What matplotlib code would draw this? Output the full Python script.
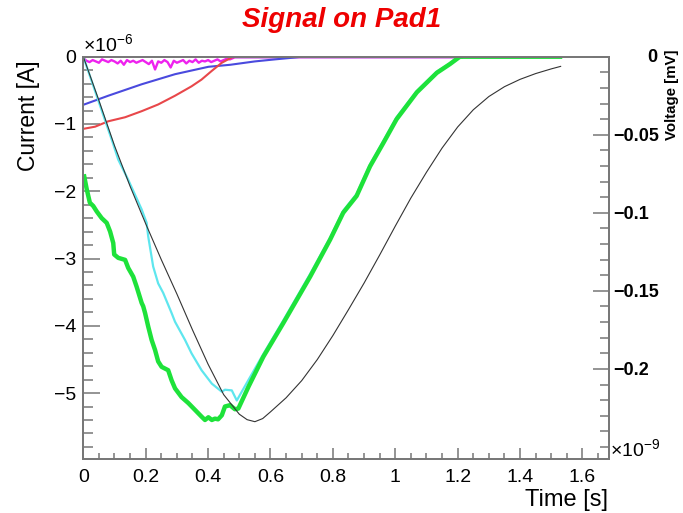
#!/usr/bin/env python3
"""Signal on Pad1: induced currents (left axis) and the shaped voltage (right axis)."""

import matplotlib
matplotlib.use("Agg")
from matplotlib import pyplot as plt
from matplotlib.ticker import MultipleLocator, FixedLocator, FixedFormatter, FuncFormatter

plt.rcParams["font.family"] = ["Liberation Sans", "DejaVu Sans"]
plt.rcParams["mathtext.fontset"] = "custom"
plt.rcParams["mathtext.rm"] = "Liberation Sans"

# time in units of 1e-9 s, current in units of 1e-6 A, voltage in mV
green_t = [0.003, 0.011, 0.021, 0.032, 0.043, 0.059, 0.075, 0.086, 0.096, 0.099,
           0.112, 0.134, 0.144, 0.160, 0.171, 0.187, 0.192, 0.198, 0.208, 0.219,
           0.230, 0.240, 0.251, 0.272, 0.283, 0.294, 0.315, 0.337, 0.358, 0.379,
           0.390, 0.401, 0.412, 0.422, 0.432, 0.444, 0.454, 0.470, 0.486, 0.497,
           0.530, 0.577, 0.641, 0.727, 0.791, 0.833, 0.876, 0.919, 0.962, 1.004,
           1.069, 1.133, 1.175, 1.207, 1.528]
green_i = [-1.78, -1.97, -2.17, -2.22, -2.30, -2.40, -2.47, -2.60, -2.77, -2.94,
           -2.99, -3.02, -3.14, -3.27, -3.42, -3.66, -3.71, -3.81, -4.01, -4.21,
           -4.36, -4.53, -4.61, -4.66, -4.81, -4.93, -5.06, -5.15, -5.25, -5.35,
           -5.40, -5.36, -5.40, -5.38, -5.39, -5.33, -5.20, -5.18, -5.24, -5.23,
           -4.90, -4.46, -3.96, -3.27, -2.72, -2.32, -2.07, -1.63, -1.28, -0.93,
           -0.53, -0.24, -0.11, 0.0, 0.0]

cyan_t = [0.0, 0.096, 0.112, 0.144, 0.187, 0.203, 0.208, 0.224, 0.240, 0.256,
          0.283, 0.294, 0.326, 0.347, 0.379, 0.412, 0.444, 0.454, 0.476, 0.492,
          0.530, 0.577, 0.641, 0.727, 0.791, 0.833, 0.876, 0.919, 0.962, 1.004,
          1.069, 1.133, 1.175, 1.205, 1.520]
cyan_i = [0.0, -1.30, -1.53, -1.83, -2.27, -2.47, -2.67, -3.12, -3.37, -3.51,
          -3.81, -3.94, -4.21, -4.41, -4.66, -4.86, -4.98, -4.95, -4.96, -5.11,
          -4.80, -4.42, -3.92, -3.23, -2.69, -2.29, -2.04, -1.60, -1.25, -0.90,
          -0.51, -0.22, -0.10, 0.0, 0.0]

red_t = [0.003, 0.038, 0.080, 0.134, 0.187, 0.240, 0.294, 0.347, 0.379, 0.412,
         0.444, 0.476, 0.492]
red_i = [-1.07, -1.04, -0.96, -0.90, -0.81, -0.71, -0.58, -0.44, -0.34, -0.21,
         -0.09, -0.01, 0.0]

blue_t = [0.003, 0.080, 0.187, 0.294, 0.401, 0.471, 0.550, 0.614, 0.660, 0.700]
blue_i = [-0.71, -0.58, -0.41, -0.26, -0.15, -0.12, -0.07, -0.04, -0.02, 0.0]

magenta_t = [i / 100 for i in range(50)]
magenta_i = [-0.02, -0.06, -0.08, -0.05, -0.07, -0.09, -0.04, -0.06, -0.08, -0.05,
             -0.07, -0.10, -0.06, -0.12, -0.05, -0.08, -0.06, -0.09, -0.07, -0.05,
             -0.08, -0.11, -0.06, -0.19, -0.07, -0.09, -0.05, -0.08, -0.16, -0.06,
             -0.09, -0.07, -0.05, -0.10, -0.06, -0.08, -0.04, -0.09, -0.06, -0.07,
             -0.05, -0.08, -0.06, -0.04, -0.07, -0.05, -0.03, -0.04, -0.02, 0.0]
pink_t = [0.49, 1.21]
pink_i = [0.0, 0.0]

volt_t = [0.0, 0.05, 0.10, 0.15, 0.20, 0.25, 0.30, 0.35, 0.40, 0.45,
          0.50, 0.525, 0.55, 0.575, 0.60, 0.65, 0.70, 0.75, 0.80, 0.85,
          0.90, 0.95, 1.00, 1.05, 1.10, 1.15, 1.20, 1.25, 1.30, 1.35,
          1.40, 1.45, 1.50, 1.53]
volt_v = [0.0, -0.028, -0.057, -0.083, -0.107, -0.130, -0.152, -0.175, -0.197, -0.2165,
          -0.229, -0.2325, -0.2338, -0.2318, -0.2275, -0.2185, -0.2075, -0.194, -0.1786, -0.162,
          -0.145, -0.127, -0.1085, -0.0905, -0.074, -0.0585, -0.045, -0.034, -0.0255, -0.0192,
          -0.0145, -0.0108, -0.0078, -0.0062]

right_ticks = [0.0, -0.05, -0.1, -0.15, -0.2]
right_labels = ["", "\u22120.05", "\u22120.1", "\u22120.15", "\u22120.2"]

W, H = 683, 513
AXCOL = "#777777"


def fx(px):
    return px / W


def fy(py):
    return 1 - py / H


fig = plt.figure(figsize=(W / 100, H / 100), dpi=100)
ax = fig.add_axes([fx(83.3), fy(459), fx(609) - fx(83.3), fy(56.7) - fy(459)])

ax.plot(magenta_t, magenta_i, color="#ee22ee", lw=1.7)
ax.plot(pink_t, pink_i, color="#dd88ee", lw=2.0)
ax.plot(blue_t, blue_i, color="#4a4ade", lw=1.5)
ax.plot(red_t, red_i, color="#e8474a", lw=1.5)
ax.plot(cyan_t, cyan_i, color="#5ee6ee", lw=1.6)
ax.plot(green_t, green_i, color="#1ee23a", lw=3.2)

ax.set_xlim(0, 1.685)
ax.set_ylim(-5.98, 0)
ax.xaxis.set_major_locator(MultipleLocator(0.2))
ax.xaxis.set_minor_locator(MultipleLocator(0.05))
ax.xaxis.set_major_formatter(FuncFormatter(lambda v, p: f"{v:g}"))
ax.yaxis.set_major_locator(MultipleLocator(1))
ax.yaxis.set_minor_locator(MultipleLocator(0.2))
ax.yaxis.set_major_formatter(FuncFormatter(lambda v, p: f"{v:g}".replace("-", "\u2212")))
ax.tick_params(axis="x", which="major", direction="in", length=8, width=1.1,
               color=AXCOL, labelsize=14, pad=7)
ax.tick_params(axis="x", which="minor", direction="in", length=4.3, width=1.1, color=AXCOL)
ax.tick_params(axis="y", which="major", direction="in", length=12.5, width=1.1,
               color=AXCOL, labelsize=14, pad=5)
ax.tick_params(axis="y", which="minor", direction="in", length=7, width=1.1, color=AXCOL)
for s in ax.spines.values():
    s.set_color(AXCOL)
    s.set_linewidth(1.3)

ax2 = ax.twinx()
ax2.plot(volt_t, volt_v, color="#333333", lw=0.8)
ax2.set_ylim(-0.2577, 0)
ax2.yaxis.set_major_locator(FixedLocator(right_ticks))
ax2.yaxis.set_major_formatter(FixedFormatter(right_labels))
ax2.yaxis.set_minor_locator(MultipleLocator(0.01))
ax2.tick_params(axis="y", which="major", direction="in", length=11.5, width=1.1,
                color=AXCOL, labelsize=13, pad=3)
ax2.tick_params(axis="y", which="minor", direction="in", length=6.5, width=1.1, color=AXCOL)
for lbl in ax2.get_yticklabels():
    lbl.set_fontweight("bold")
for s in ax2.spines.values():
    s.set_color(AXCOL)
    s.set_linewidth(1.3)

fig.text(fx(341.5), fy(20), "Signal on Pad1", color="#ee0000", fontsize=20,
         fontweight="bold", fontstyle="italic", ha="center", va="center")
fig.text(fx(28), fy(60), "Current [A]", fontsize=16.5, rotation=90, ha="center", va="top")
fig.text(fx(608), fy(500), "Time [s]", fontsize=17, ha="right", va="center")
fig.text(fx(672), fy(50), "Voltage [mV]", fontsize=10.8, fontweight="bold",
         rotation=90, ha="center", va="top")
fig.text(fx(652), fy(58), "0", fontsize=13, fontweight="bold", ha="center", va="center")
fig.text(fx(83), fy(45), r"$\times10^{-6}$", fontsize=14, ha="left", va="center")
fig.text(fx(610), fy(450), r"$\times10^{-9}$", fontsize=14, ha="left", va="center")

fig.savefig("out.png", dpi=100)
